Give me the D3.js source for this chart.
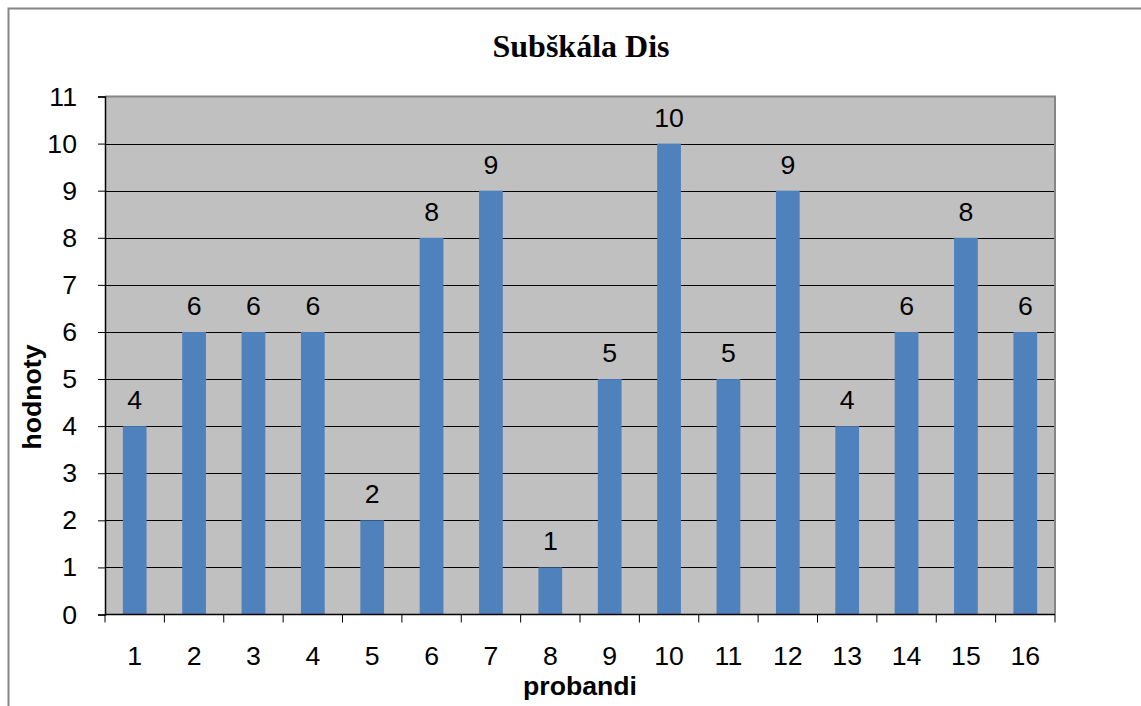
<!DOCTYPE html>
<html><head><meta charset="utf-8">
<script src="https://cdn.jsdelivr.net/npm/d3@7"></script>
<style>body{margin:0;background:#fff}svg{display:block}</style>
</head><body>
<svg id="c" width="1141" height="706"></svg>
<script>
const categories = ["1","2","3","4","5","6","7","8","9","10","11","12","13","14","15","16"];
const values = [4,6,6,6,2,8,9,1,5,10,5,9,4,6,8,6];
const yTicks = [0,1,2,3,4,5,6,7,8,9,10,11];
const title = "Subškála Dis";
const xTitle = "probandi";
const yTitle = "hodnoty";

const svg = d3.select("#c");
const L = 105, R = 1055, T = 96.5, B = 614.5;
const SANS = "Liberation Sans, Arial, sans-serif";
const FS = 26.67;

// outer frame
svg.append("path").attr("d", `M8.5,706 V8.5 H1141`).attr("fill","none").attr("stroke","#868686").attr("stroke-width",2);

const x = d3.scaleBand().domain(categories).range([L, R]).paddingInner(0.6).paddingOuter(0.3);
const y = d3.scaleLinear().domain([0, 11]).range([B, T]);

svg.append("rect").attr("x", L).attr("y", T).attr("width", R - L).attr("height", B - T).attr("fill", "#c0c0c0");

// gridlines
svg.append("g").selectAll("line").data(yTicks.filter(d => d > 0 && d < 11)).join("line")
  .attr("x1", L).attr("x2", R).attr("y1", d => Math.round(y(d)) + 0.5).attr("y2", d => Math.round(y(d)) + 0.5)
  .attr("stroke", "#000").attr("stroke-width", 1);

// plot border top/right gray
svg.append("path").attr("d", `M${L},${T} H${R} V${B}`).attr("fill","none").attr("stroke","#868686").attr("stroke-width",2);

// bars
svg.append("g").selectAll("rect").data(values).join("rect")
  .attr("x", (d, i) => x(categories[i]))
  .attr("width", x.bandwidth())
  .attr("y", d => y(d))
  .attr("height", d => B - y(d))
  .attr("fill", "#4f81bd");

// data labels
svg.append("g").selectAll("text").data(values).join("text")
  .attr("x", (d, i) => x(categories[i]) + x.bandwidth() / 2)
  .attr("y", d => y(d) - 17)
  .attr("text-anchor", "middle")
  .attr("font-family", SANS).attr("font-size", FS)
  .text(d => d);

// y axis
const yAxis = d3.axisLeft(y).tickValues(yTicks).tickSize(7).tickPadding(21).tickFormat(d3.format("d"));
const gy = svg.append("g").attr("transform", `translate(${L},0)`).call(yAxis);
gy.attr("font-size", FS).attr("font-family", SANS);
gy.select(".domain").attr("stroke", "#000").attr("stroke-width", 1.5);
gy.selectAll(".tick line").attr("stroke", "#000");
gy.selectAll("text").attr("font-family", SANS).attr("font-size", FS).attr("fill", "#000");

// x axis: ticks at category boundaries
const gx = svg.append("g").attr("transform", `translate(0,${B})`);
gx.append("line").attr("x1", L).attr("x2", R).attr("stroke", "#000").attr("stroke-width", 1.5);
const edges = d3.range(categories.length + 1).map(i => L + i * (R - L) / categories.length);
gx.selectAll("line.tk").data(edges).join("line").attr("class","tk")
  .attr("x1", d => d).attr("x2", d => d).attr("y1", 0).attr("y2", 8).attr("stroke", "#000");
gx.selectAll("text").data(categories).join("text")
  .attr("x", d => x(d) + x.bandwidth() / 2).attr("y", 50.5)
  .attr("text-anchor", "middle")
  .attr("font-family", SANS).attr("font-size", FS)
  .text(d => d);

// titles
svg.append("text").attr("x", 581).attr("y", 57).attr("text-anchor", "middle")
  .attr("font-family", "Liberation Serif, Times New Roman, serif").attr("font-weight", "bold").attr("font-size", 32)
  .text(title);
svg.append("text").attr("x", 580).attr("y", 695).attr("text-anchor", "middle")
  .attr("font-family", SANS).attr("font-weight", "bold").attr("font-size", FS)
  .text(xTitle);
svg.append("text").attr("transform", "translate(41,397) rotate(-90)").attr("text-anchor", "middle")
  .attr("font-family", SANS).attr("font-weight", "bold").attr("font-size", FS)
  .text(yTitle);
</script>
</body></html>
